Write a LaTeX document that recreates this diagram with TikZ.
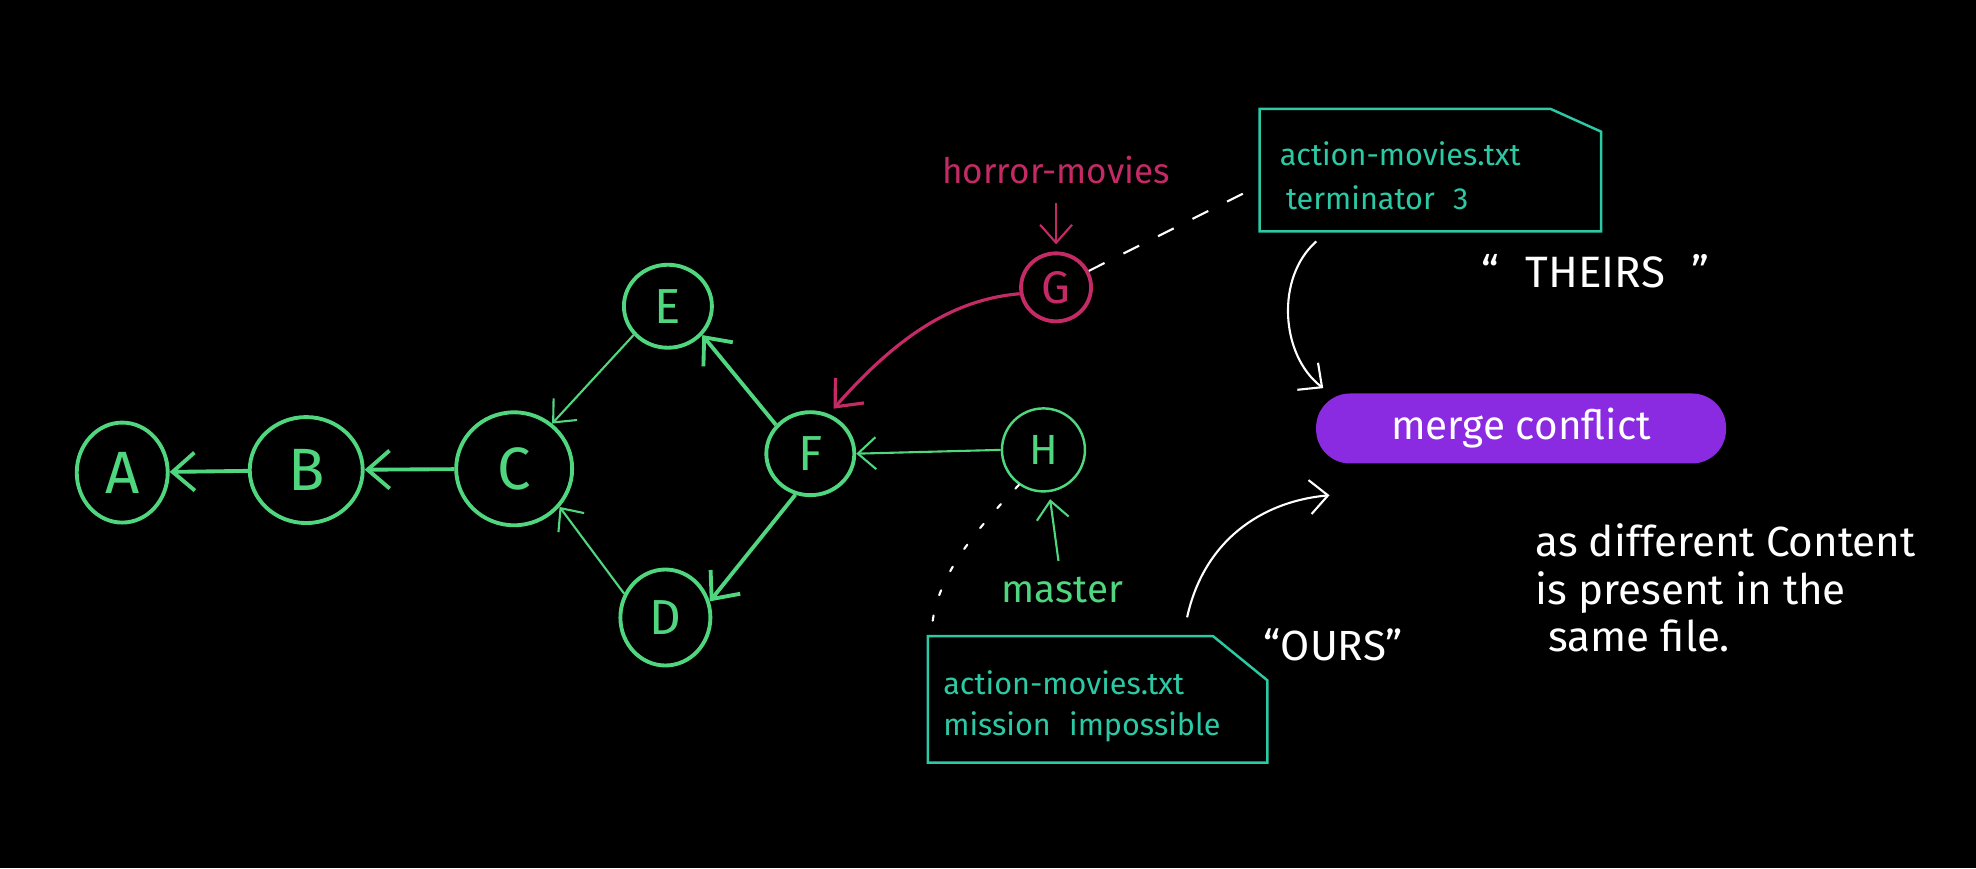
\documentclass[tikz,border=0pt]{standalone}
\usepackage{fontspec}
\setmainfont{Fira Sans}
\usetikzlibrary{shapes.geometric,arrows.meta}

\definecolor{commitgreen}{HTML}{4FD67F}
\definecolor{fileteal}{HTML}{2CC9A5}
\definecolor{branchred}{HTML}{C42A65}
\definecolor{conflictpurple}{HTML}{8A2BE2}

\tikzset{
  commit/.style={ellipse, draw=commitgreen, text=commitgreen, line width=1.1pt, inner sep=0pt},
  heavy link/.style={draw=commitgreen, line width=1.1pt, -{Straight Barb[length=2.2mm,width=3.8mm]}},
  light link/.style={draw=commitgreen, line width=0.6pt, -{Straight Barb[length=1.8mm,width=3.2mm]}},
  filebox/.style={rectangle, inner sep=0pt},
  filetext/.style={text=fileteal, font=\fontsize{8.7}{15}\selectfont, anchor=west, inner sep=0pt},
  chalk/.style={draw=white, line width=0.6pt},
  chalktip/.style={-{Straight Barb[length=1.8mm,width=3.4mm]}},
}

\begin{document}
\begin{tikzpicture}[x=0.0126cm, y=-0.0126cm]
\fill[black] (0,0) rectangle (1568,689);

% commits
\node[commit, minimum width=0.91cm, minimum height=1.0cm, font=\fontsize{17}{17}\selectfont] (A) at (97,375) {A};
\node[commit, minimum width=1.13cm, minimum height=1.06cm, font=\fontsize{17}{17}\selectfont] (B) at (243,373) {B};
\node[commit, minimum width=1.16cm, minimum height=1.13cm, font=\fontsize{17}{17}\selectfont] (C) at (408,372) {C};
\node[commit, minimum width=0.88cm, minimum height=0.83cm, font=\fontsize{14}{14}\selectfont] (E) at (530,243) {E};
\node[commit, minimum width=0.9cm, minimum height=0.96cm, font=\fontsize{14}{14}\selectfont] (D) at (528,490) {D};
\node[commit, minimum width=0.88cm, minimum height=0.83cm, font=\fontsize{14}{14}\selectfont] (F) at (643,360) {F};
\node[commit, line width=0.7pt, minimum width=0.83cm, minimum height=0.83cm, font=\fontsize{12}{12}\selectfont] (H) at (828,357) {H};
\node[commit, draw=branchred, text=branchred, minimum width=0.7cm, minimum height=0.68cm, font=\fontsize{13}{13}\selectfont] (G) at (838,228) {G};

% history
\draw[heavy link] (B) -- (A);
\draw[heavy link] (C) -- (B);
\draw[light link] (E.220) -- (C.50);
\draw[light link] (D.150) -- (C.-40);
\draw[heavy link] (F.140) -- (E.-40);
\draw[heavy link] (F.-110) -- (D.20);
\draw[light link] (H.180) -- (F.0);
\draw[heavy link, draw=branchred, line width=0.9pt, shorten >=2pt] (G.190) .. controls (750,238) and (705,275) .. (F.65);

% branch labels
\node[text=branchred, font=\fontsize{10}{10}\selectfont] (horror) at (838,135) {horror-movies};
\node[text=commitgreen, font=\fontsize{11}{11}\selectfont] (master) at (843,468) {master};
\draw[light link, draw=branchred, shorten <=2pt, shorten >=2pt] (horror) -- (G);
\draw[light link, shorten <=1pt, shorten >=2pt] (master) -- (H);

% files
\node[filebox, minimum width=3.4cm, minimum height=1.21cm] (theirs) at (1135,135) {};
\draw[fileteal, line width=0.7pt] (theirs.south west) -- (theirs.north west) -- ([shift={(-40,0)}]theirs.north east) -- ([shift={(0,18)}]theirs.north east) -- (theirs.south east) -- cycle;
\node[filetext] (theirs name) at (1015,122) {action-movies.txt};
\node[filetext] (theirs line) at (1020,157) {terminator\hspace{0.6em}3};

\node[filebox, minimum width=3.38cm, minimum height=1.25cm] (ours) at (871,555) {};
\draw[fileteal, line width=0.7pt] (ours.south west) -- (ours.north west) -- ([shift={(-43,0)}]ours.north east) -- ([shift={(0,35)}]ours.north east) -- (ours.south east) -- cycle;
\node[filetext] (ours name) at (748,542) {action-movies.txt};
\node[filetext] (ours line) at (748,577) {mission\hspace{0.6em}impossible};

\draw[chalk, dash pattern=on 5pt off 6pt] (G) -- ([shift={(0,12)}]theirs.west);
\draw[chalk, dash pattern=on 1.5pt off 6pt, line cap=round] (H.235) .. controls (770,425) and (742,460) .. ([shift={(3,-5)}]ours.north west);

% conflict
\node[fill=conflictpurple, rounded corners=0.34cm, minimum width=4.1cm, minimum height=0.7cm, text=white, font=\fontsize{11.5}{11.5}\selectfont] (conflict) at (1207,340) {merge conflict};
\coordinate (theirs tip) at (1050,308);
\coordinate (ours tip) at (1055,393);
\draw[chalk, chalktip] ([shift={(45,8)}]theirs.south west) .. controls (1012,220) and (1016,282) .. (theirs tip);
\draw[chalk, chalktip] ([shift={(71,-15)}]ours.north) .. controls (955,430) and (1000,398) .. (ours tip);

\node[text=white, font=\fontsize{12.5}{12.5}\selectfont] (theirs label) at (1266,215) {“\hspace{0.6em}THEIRS\hspace{0.6em}”};
\node[text=white, font=\fontsize{12}{12}\selectfont] (ours label) at (1058,512) {“OURS”};
\node[text=white, font=\fontsize{12}{13.5}\selectfont, align=left, anchor=north west, inner sep=0pt] (note) at (1218,415) {as different Content\\is present in the\\\hspace{0.3em}same file.};
\end{tikzpicture}
\end{document}
